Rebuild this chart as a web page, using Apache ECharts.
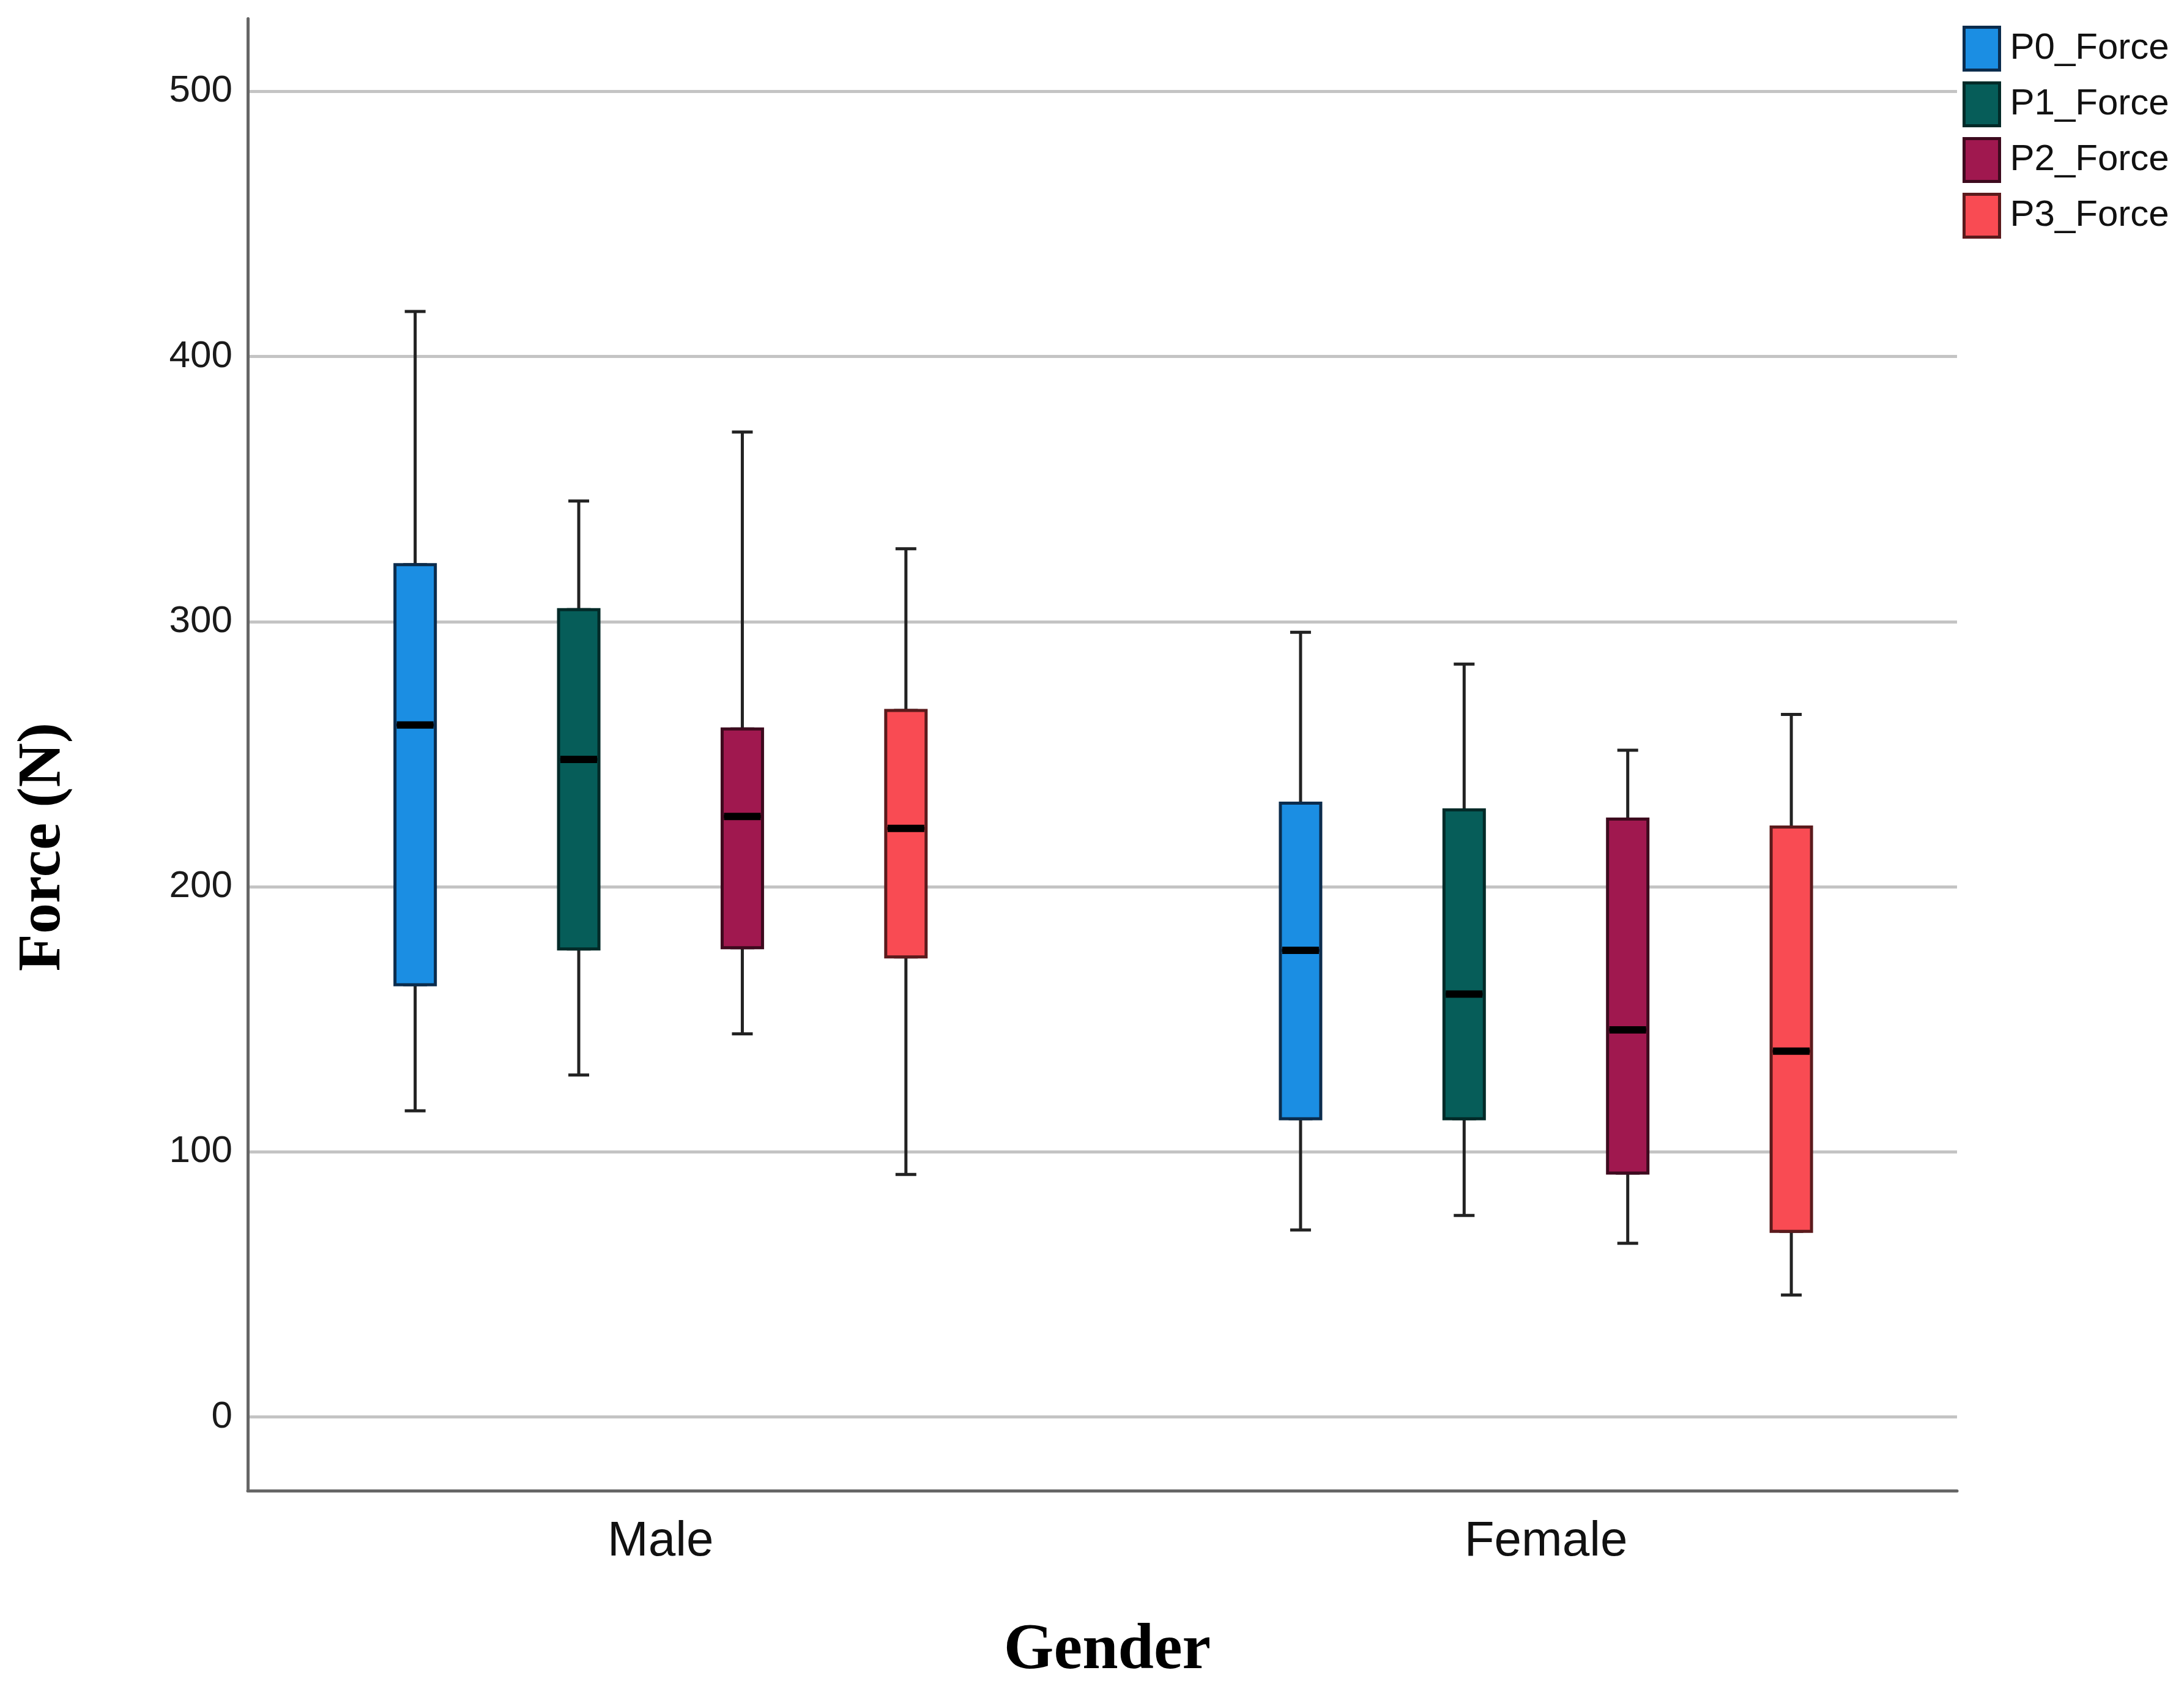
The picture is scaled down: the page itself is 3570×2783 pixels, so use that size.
<!DOCTYPE html>
<html>
<head>
<meta charset="utf-8">
<script src="https://cdn.jsdelivr.net/npm/echarts@6/dist/echarts.min.js"></script>
<style>
  html, body { margin: 0; padding: 0; background: #ffffff; }
  #chart { width: 3570px; height: 2783px; }
</style>
</head>
<body>
<div id="chart"></div>
<script>
// ---- data ----
const genders = ['Male', 'Female'];
const seriesNames = ['P0_Force', 'P1_Force', 'P2_Force', 'P3_Force'];
// each row: [min, Q1, median, Q3, max]; first row Male, second Female
const p0Force = [[115.5, 163, 261, 321.5, 417], [70.5, 112.5, 176, 231.5, 296]];
const p1Force = [[129, 176.5, 248, 304.5, 345.5], [76, 112.5, 159.5, 229, 284]];
const p2Force = [[144.5, 177, 226.5, 259.5, 371.5], [65.5, 92, 146, 225.5, 251.5]];
const p3Force = [[91.5, 173.5, 222, 266.5, 327.5], [46, 70, 138, 222.5, 265]];
const yTicks = [0, 100, 200, 300, 400, 500];
const genderIdx = [0, 1];

// ---- styles / layout ----
const fills = ['#1b8ee3', '#065d59', '#a0184f', '#f94b53'];
const borders = ['#0b2c4d', '#022a28', '#3d0a1e', '#5b1a1c'];
const sansFont = "'Liberation Sans', Arial, sans-serif";
const serifFont = "'Liberation Serif', 'Times New Roman', serif";

const allSeries = [p0Force, p1Force, p2Force, p3Force];

const LEFT = 405, TOP = 30.6, HEIGHT = 2405.4, WIDTH = 2794;
const Y_MIN = -27.8, Y_MAX = 527.4;
const X_MIN = -0.4662, X_MAX = 1.4643;   // gender axis range
const SLOT = 267.4 / 1447.3;              // spacing of boxes inside a gender group (fraction of group spacing)

const chart = echarts.init(document.getElementById('chart'), null, { renderer: 'canvas' });

const xAxes = [{
  gridIndex: 0, type: 'value', min: X_MIN, max: X_MAX,
  axisLine: { show: true, onZero: false, lineStyle: { color: '#666666', width: 5 } },
  axisTick: { show: false, customValues: genderIdx },
  axisLabel: {
    customValues: genderIdx,
    formatter: v => genders[Math.round(v)],
    fontFamily: sansFont, fontSize: 80, color: '#111111', margin: 44
  },
  splitLine: { show: false }
}];

const series = [];
function addBoxAxis(k) {
  const shift = (k - 1.5) * SLOT;
  xAxes.push({ gridIndex: 0, type: 'value', min: X_MIN - shift, max: X_MAX - shift, show: false });
  return xAxes.length - 1;
}

allSeries.forEach((rows, k) => {
  // whiskers with short caps
  series.push({
    type: 'boxplot', name: seriesNames[k] + ' whisker', layout: 'horizontal',
    xAxisIndex: addBoxAxis(k), yAxisIndex: 0, z: 3, silent: true,
    boxWidth: [34, 34],
    itemStyle: { color: 'rgba(0,0,0,0)', borderColor: '#222222', borderWidth: 5 },
    emphasis: { disabled: true },
    data: rows.map((r, i) => [genderIdx[i], r[0], r[1], r[1], r[3], r[4]])
  });
  // boxes
  series.push({
    type: 'boxplot', name: seriesNames[k], layout: 'horizontal',
    xAxisIndex: addBoxAxis(k), yAxisIndex: 0, z: 4,
    boxWidth: [66, 66],
    itemStyle: { color: fills[k], borderColor: borders[k], borderWidth: 5 },
    emphasis: { disabled: true },
    data: rows.map((r, i) => [genderIdx[i], r[1], r[1], r[2], r[3], r[3]])
  });
  // thick median
  series.push({
    type: 'boxplot', name: seriesNames[k] + ' median', layout: 'horizontal',
    xAxisIndex: addBoxAxis(k), yAxisIndex: 0, z: 5, silent: true,
    boxWidth: [60, 60],
    itemStyle: { color: '#000', borderColor: '#000', borderWidth: 12 },
    emphasis: { disabled: true },
    data: rows.map((r, i) => [genderIdx[i], r[2], r[2], r[2], r[2], r[2]])
  });
});

const option = {
  backgroundColor: '#ffffff',
  animation: false,
  grid: [{ left: LEFT, top: TOP, width: WIDTH, height: HEIGHT }],
  xAxis: xAxes,
  yAxis: [{
    gridIndex: 0, type: 'value', min: Y_MIN, max: Y_MAX,
    axisLine: { show: true, onZero: false, lineStyle: { color: '#666666', width: 5 } },
    axisTick: { show: false, customValues: yTicks },
    axisLabel: {
      customValues: yTicks,
      fontFamily: sansFont, fontSize: 62, color: '#1a1a1a', margin: 25,
      padding: [22, 0, 0, 0]
    },
    splitLine: { show: true, lineStyle: { color: '#c4c4c4', width: 5 } }
  }],
  legend: {
    data: seriesNames.map((n, k) => ({
      name: n,
      itemStyle: { color: fills[k], borderColor: borders[k], borderWidth: 5 }
    })),
    orient: 'vertical',
    left: 3208, top: 42,
    padding: 0,
    icon: 'rect',
    itemWidth: 58, itemHeight: 70, itemGap: 16,
    selectedMode: false,
    textStyle: {
      fontFamily: sansFont, fontSize: 60, color: '#111111',
      lineHeight: 60, padding: [0, 0, 0, 12]
    }
  },
  graphic: [
    {
      type: 'text', x: 71, y: 1384, rotation: Math.PI / 2,
      style: {
        text: 'Force (N)', fill: '#000',
        font: 'bold 100px ' + serifFont,
        textAlign: 'center', textVerticalAlign: 'middle'
      }
    },
    {
      type: 'text', x: 1810, y: 2699,
      style: {
        text: 'Gender', fill: '#000',
        font: 'bold 105px ' + serifFont,
        textAlign: 'center', textVerticalAlign: 'middle'
      }
    }
  ],
  series: series
};

chart.setOption(option);
</script>
</body>
</html>
